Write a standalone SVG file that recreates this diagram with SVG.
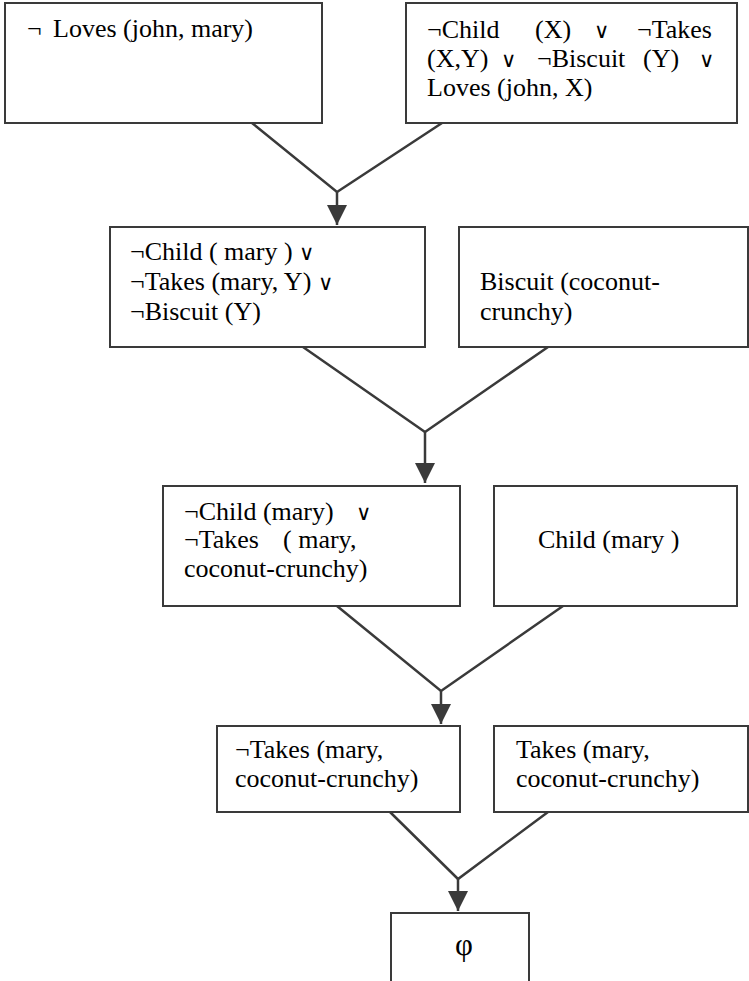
<svg xmlns="http://www.w3.org/2000/svg" width="749" height="981" viewBox="0 0 749 981">
<defs>
<style>
.box{fill:#fff;stroke:#3a3a3a;stroke-width:2}
.t{font-family:"Liberation Serif","Times New Roman",serif;font-size:26px;fill:#000}
.or{font-family:"DejaVu Sans","Noto Sans",sans-serif;font-size:21px;font-weight:200}
.phi{font-size:31px}
.c{fill:none;stroke:#3a3a3a;stroke-width:2.5}
</style>
<marker id="ah" markerUnits="userSpaceOnUse" markerWidth="20" markerHeight="20" refX="20" refY="10" orient="auto" viewBox="0 0 20 20">
<path d="M0,0 L20,10 L0,20 z" fill="#3a3a3a"/>
</marker>
</defs>
<rect width="749" height="981" fill="#fff"/>
<g id="n1">
<rect class="box" x="5" y="3" width="317" height="120"/>
<text class="t" y="37"><tspan x="27">¬</tspan><tspan x="53">Loves (john, mary)</tspan></text>
</g>
<g id="n2">
<rect class="box" x="406" y="3" width="331" height="120"/>
<text class="t" y="38"><tspan x="427">¬Child</tspan><tspan x="535">(X)</tspan><tspan class="or" x="594">∨</tspan><tspan x="637">¬Takes</tspan></text>
<text class="t" y="67"><tspan x="427">(X,Y)</tspan><tspan class="or" x="501">∨</tspan><tspan x="537">¬Biscuit</tspan><tspan x="643">(Y)</tspan><tspan class="or" x="699">∨</tspan></text>
<text class="t" x="427" y="96">Loves (john, X)</text>
</g>
<g id="n3">
<rect class="box" x="110" y="227" width="315" height="120"/>
<text class="t" x="130" y="260">¬Child ( mary ) <tspan class="or">∨</tspan></text>
<text class="t" x="130" y="290">¬Takes (mary, Y) <tspan class="or">∨</tspan></text>
<text class="t" x="130" y="320">¬Biscuit (Y)</text>
</g>
<g id="n4">
<rect class="box" x="459" y="227" width="289" height="120"/>
<text class="t" x="480" y="290">Biscuit (coconut-</text>
<text class="t" x="480" y="320">crunchy)</text>
</g>
<g id="n5">
<rect class="box" x="163" y="486" width="297" height="120"/>
<text class="t" y="520"><tspan x="184">¬Child (mary)</tspan><tspan class="or" x="356">∨</tspan></text>
<text class="t" y="548"><tspan x="184">¬Takes</tspan><tspan x="283">( mary,</tspan></text>
<text class="t" x="184" y="577">coconut-crunchy)</text>
</g>
<g id="n6">
<rect class="box" x="494" y="486" width="243" height="120"/>
<text class="t" x="538" y="548">Child (mary )</text>
</g>
<g id="n7">
<rect class="box" x="217" y="726" width="243" height="86"/>
<text class="t" x="235" y="758">¬Takes (mary,</text>
<text class="t" x="235" y="787">coconut-crunchy)</text>
</g>
<g id="n8">
<rect class="box" x="494" y="726" width="254" height="86"/>
<text class="t" x="516" y="758">Takes (mary,</text>
<text class="t" x="516" y="787">coconut-crunchy)</text>
</g>
<g id="n9">
<rect class="box" x="391" y="913" width="138" height="80"/>
<text class="t phi" x="455" y="955">φ</text>
</g>
<g id="connectors">
<path class="c" d="M252,123 L337,192 L442,123"/>
<path class="c" d="M337,192 L337,225" marker-end="url(#ah)"/>
<path class="c" d="M303,347 L425,432 L548,347"/>
<path class="c" d="M425,432 L425,483" marker-end="url(#ah)"/>
<path class="c" d="M337,606 L441,691 L563,606"/>
<path class="c" d="M441,691 L441,724" marker-end="url(#ah)"/>
<path class="c" d="M390,812 L458,879 L548,812"/>
<path class="c" d="M458,879 L458,911" marker-end="url(#ah)"/>
</g>
</svg>
